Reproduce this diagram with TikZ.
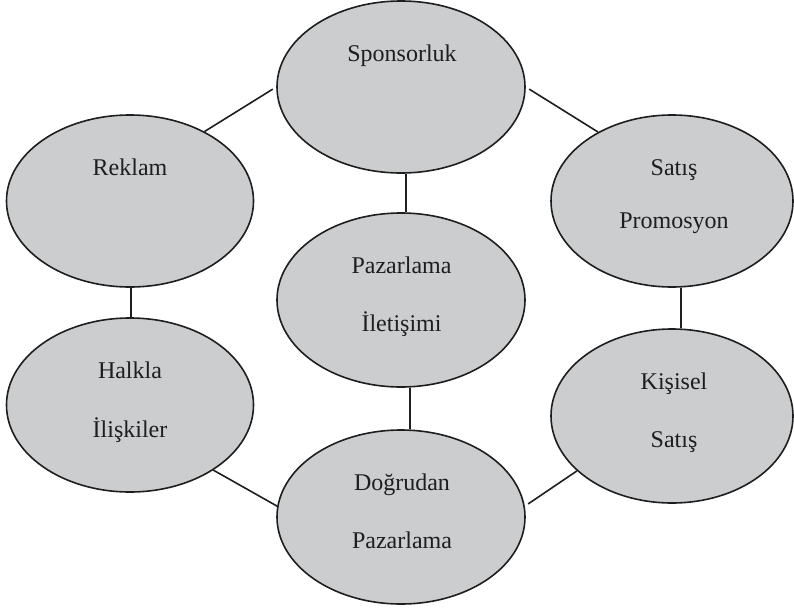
\documentclass[tikz,border=0pt]{standalone}
\usepackage{fontspec}
\setmainfont{Liberation Serif}
\usetikzlibrary{shapes.geometric}
\definecolor{ovalfill}{RGB}{203,205,207}
\definecolor{inkc}{RGB}{30,30,30}
\tikzset{
  oval/.style={ellipse, draw=inkc, fill=ovalfill, line width=1.6pt, inner sep=0pt},
  lbl/.style={anchor=base, inner sep=0pt, text=inkc, font=\fontsize{24}{29}\selectfont},
  link/.style={draw=inkc, line width=1.6pt}
}
\begin{document}
\begin{tikzpicture}[x=1pt,y=-1pt]
\useasboundingbox (0,0) rectangle (794,608);
% ellipses
\node[oval, minimum width=248pt, minimum height=172pt] (spo) at (401,87) {};
\node[oval, minimum width=247pt, minimum height=172pt] (rek) at (130,201) {};
\node[oval, minimum width=242pt, minimum height=172pt] (sat) at (672,201) {};
\node[oval, minimum width=248pt, minimum height=174pt] (paz) at (401,300) {};
\node[oval, minimum width=247pt, minimum height=174pt] (hal) at (130,405) {};
\node[oval, minimum width=242pt, minimum height=174pt] (kis) at (672,416) {};
\node[oval, minimum width=248pt, minimum height=174pt] (dog) at (401,517) {};
% labels
\node[lbl] (t1) at (402,61) {Sponsorluk};
\node[lbl] (t2) at (130,175) {Reklam};
\node[lbl] (t3a) at (674,175) {Satış};
\node[lbl] (t3b) at (674,228) {Promosyon};
\node[lbl] (t4a) at (401.5,273) {Pazarlama};
\node[lbl] (t4b) at (401.5,331) {İletişimi};
\node[lbl] (t5a) at (130,378) {Halkla};
\node[lbl] (t5b) at (130,437) {İlişkiler};
\node[lbl] (t6a) at (674,389) {Kişisel};
\node[lbl] (t6b) at (674,447) {Satış};
\node[lbl] (t7a) at (402,490) {Doğrudan};
\node[lbl] (t7b) at (402,548) {Pazarlama};
% connectors
\draw[link, shorten >=4pt] (rek.43) -- (spo.180);
\draw[link, shorten <=4pt] (spo.0) -- (sat.137);
\draw[link] ([xshift=5pt]spo.south) -- ([xshift=5pt]paz.north);
\draw[link] ([xshift=1pt]rek.south) -- ([xshift=1pt]hal.north);
\draw[link] ([xshift=9pt]sat.south) -- ([xshift=9pt]kis.north);
\draw[link] ([xshift=9pt]paz.south) -- ([xshift=9pt]dog.north);
\draw[link] (hal.-38) -- (dog.175);
\draw[link, shorten >=4pt] (kis.210) -- (dog.5);
\end{tikzpicture}
\end{document}
